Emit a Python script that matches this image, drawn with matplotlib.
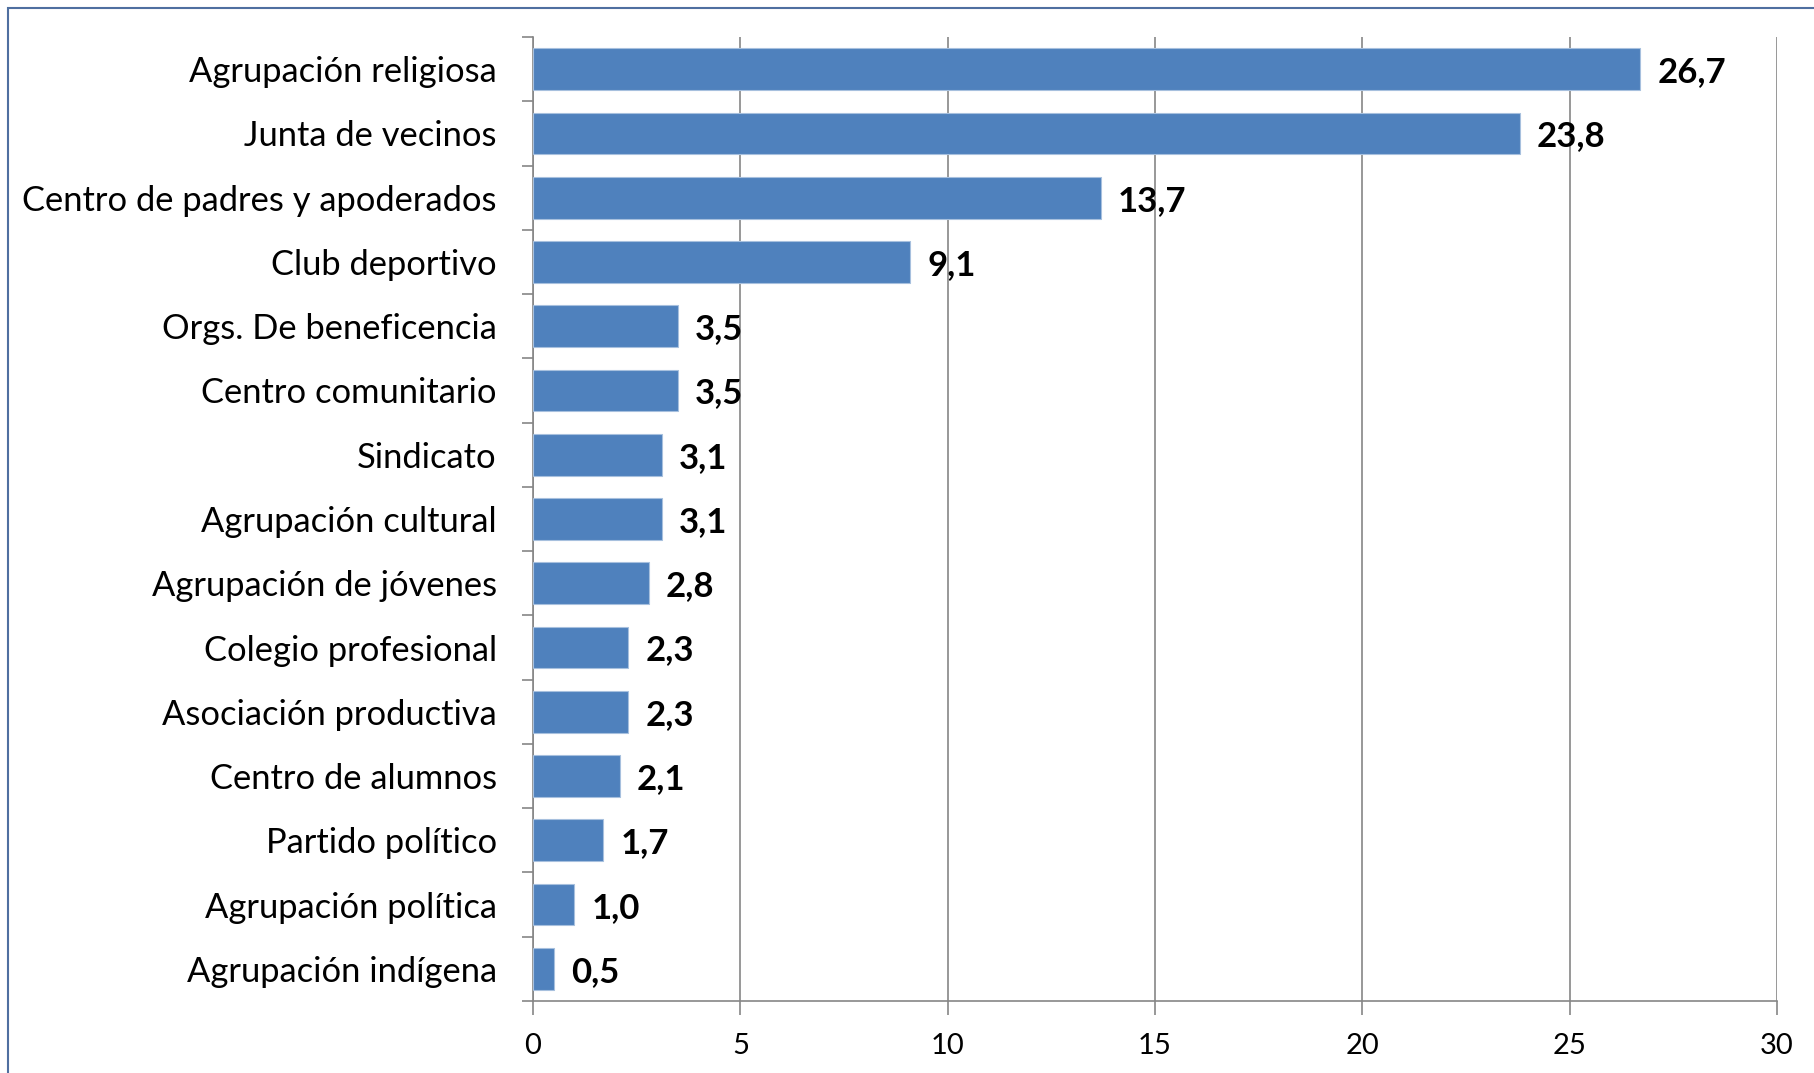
import matplotlib
matplotlib.use("Agg")
import matplotlib.pyplot as plt
from matplotlib.patches import Rectangle

categories = ["Agrupación religiosa", "Junta de vecinos", "Centro de padres y apoderados",
              "Club deportivo", "Orgs. De beneficencia", "Centro comunitario", "Sindicato",
              "Agrupación cultural", "Agrupación de jóvenes", "Colegio profesional",
              "Asociación productiva", "Centro de alumnos", "Partido político",
              "Agrupación política", "Agrupación indígena"]
values = [26.7, 23.8, 13.7, 9.1, 3.5, 3.5, 3.1, 3.1, 2.8, 2.3, 2.3, 2.1, 1.7, 1.0, 0.5]
xticks = [0, 5, 10, 15, 20, 25, 30]

plt.rcParams['font.family'] = ['Lato', 'DejaVu Sans']

W, H = 1814, 1073
fig = plt.figure(figsize=(W / 100, H / 100), dpi=100)
ax = fig.add_axes([533 / W, 1 - 1001 / H, (1777 - 533) / W, (1001 - 37) / H])

n = len(categories)
ypos = list(range(n))
ax.barh(ypos, values, height=0.65, color="#4F81BD", edgecolor="#A7C0DE", linewidth=0.8, zorder=3)
ax.set_ylim(n - 0.5, -0.5)
ax.set_xlim(0, 30)
ax.set_xticks(xticks)
ax.set_xticklabels([str(t) for t in xticks], fontsize=21)
ax.set_yticks(ypos)
ax.set_yticklabels(categories, fontsize=24.8)
ax.set_yticks([i - 0.5 for i in range(n + 1)], minor=True)
ax.tick_params(axis='y', which='major', length=0, pad=26)
ax.tick_params(axis='y', which='minor', length=8, width=1.2, color="#868686")
ax.tick_params(axis='x', which='major', length=10, width=1.2, color="#868686", pad=13)
ax.grid(axis='x', color="#868686", linewidth=1.2, zorder=0)
for s in ['top', 'right']:
    ax.spines[s].set_visible(False)
for s in ['left', 'bottom']:
    ax.spines[s].set_color("#868686")
    ax.spines[s].set_linewidth(1.2)

for y, v in zip(ypos, values):
    ax.annotate(f"{v:.1f}".replace(".", ","), xy=(v, y), xytext=(17, -3),
                textcoords="offset pixels",
                ha="left", va="center", fontsize=25, fontweight="bold")

fig.patches.append(Rectangle((8 / W, -0.1), 1.2, 1 - 8 / H + 0.1, transform=fig.transFigure,
                             fill=False, edgecolor="#4F6FA0", linewidth=1.5))

fig.savefig("out.png", dpi=100)
